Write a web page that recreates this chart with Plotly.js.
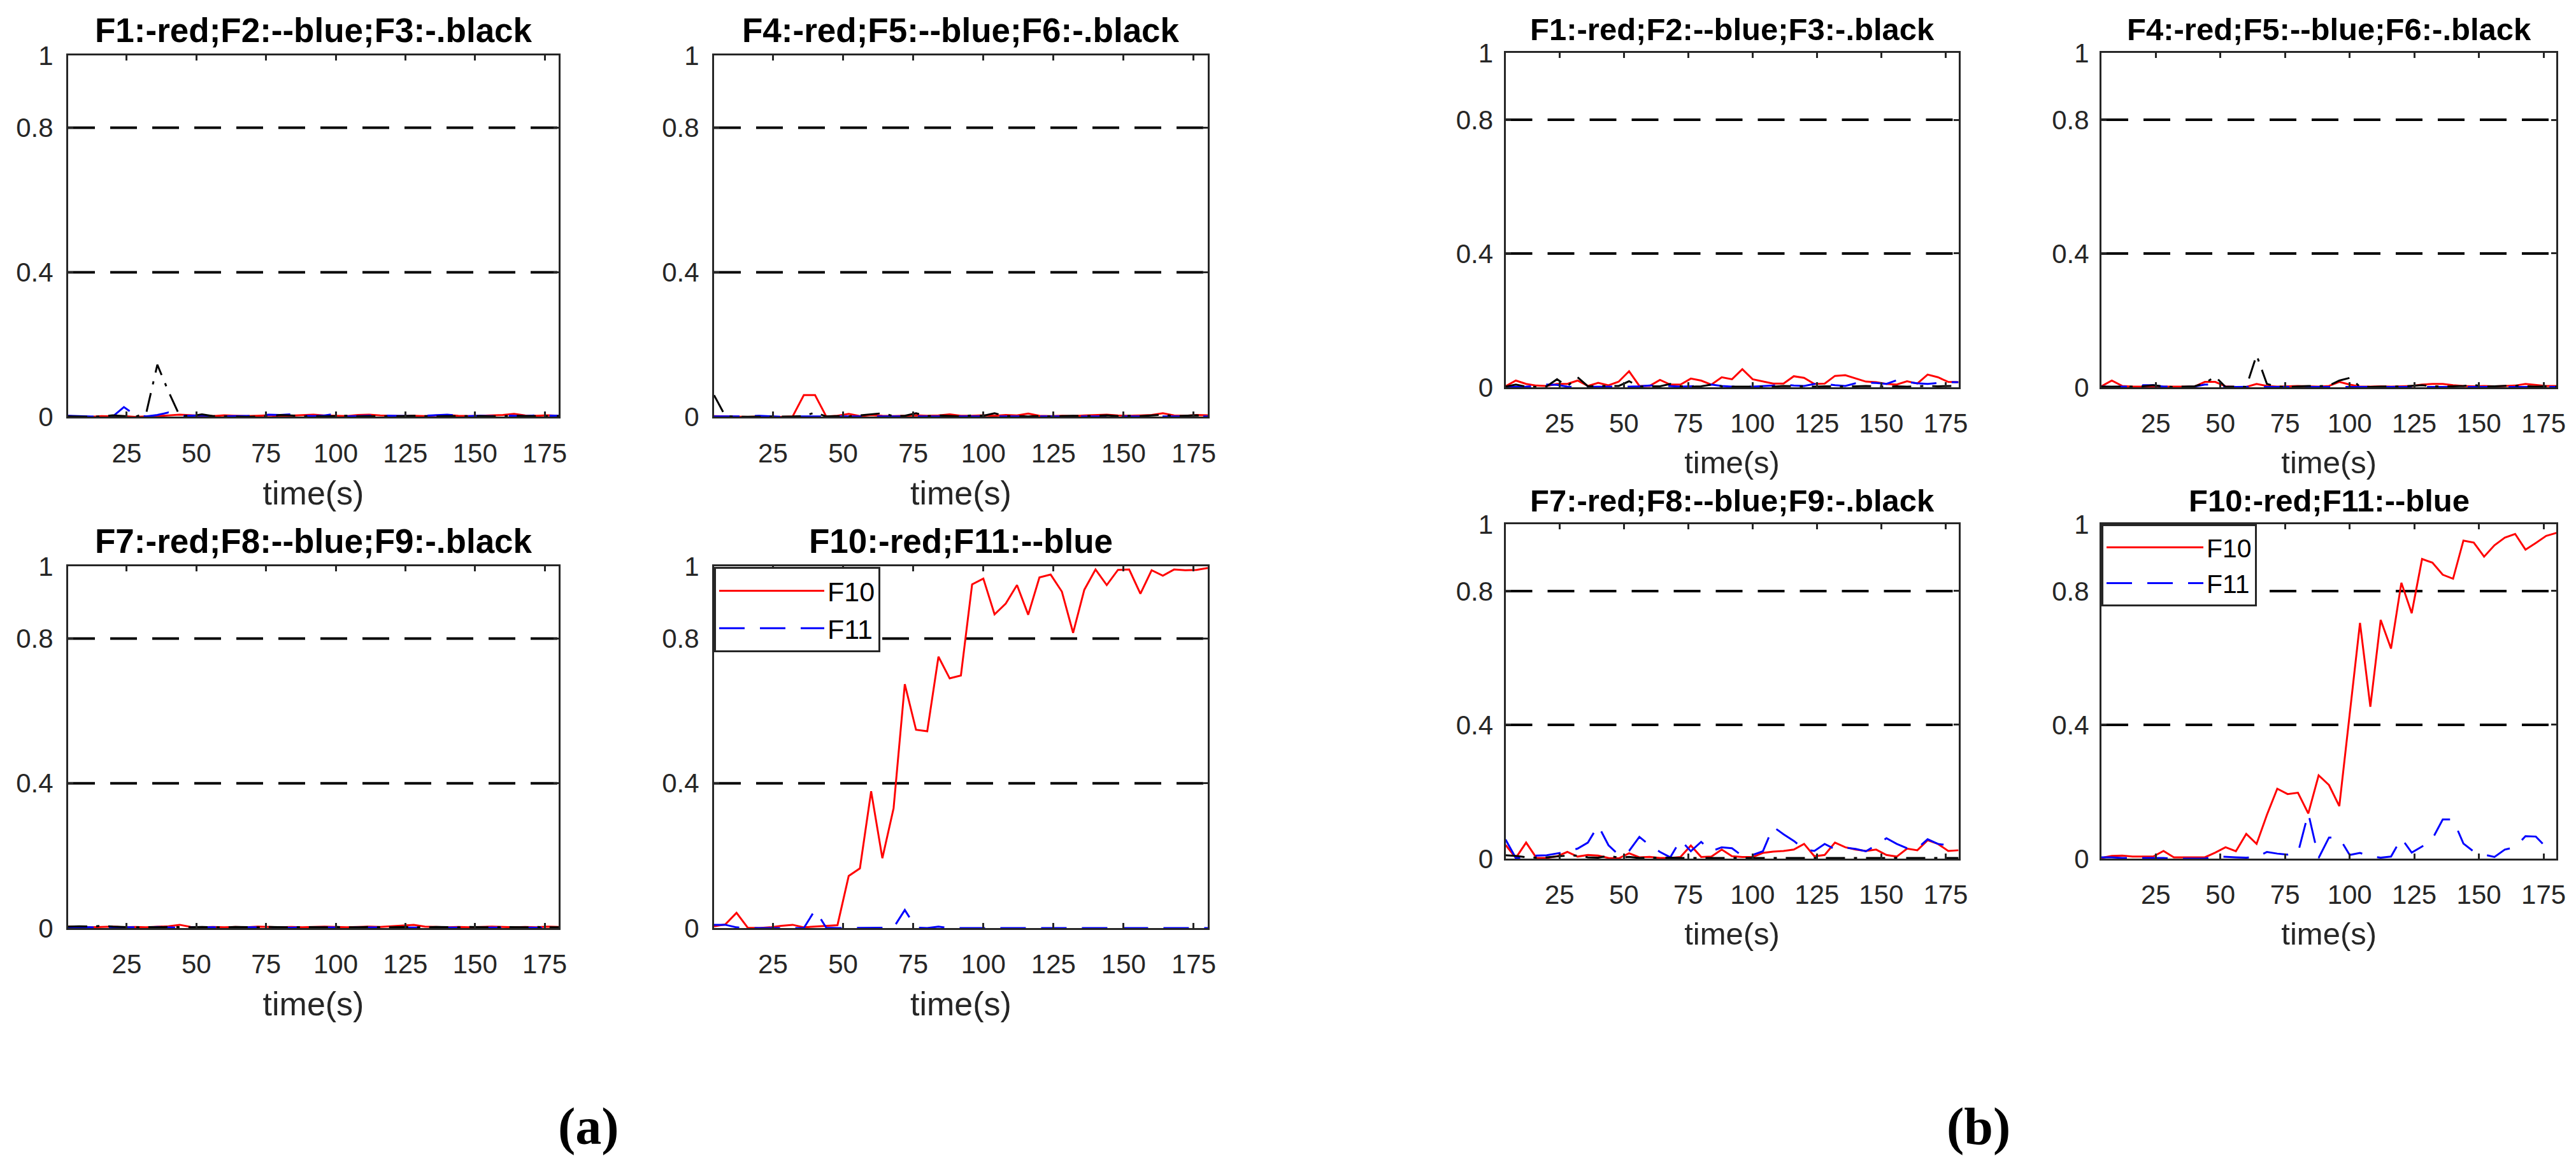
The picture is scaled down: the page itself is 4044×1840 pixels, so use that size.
<!DOCTYPE html>
<html>
<head>
<meta charset="utf-8">
<script src="https://cdn.plot.ly/plotly-3.0.1.min.js"></script>
<style>
  html, body { margin: 0; padding: 0; background: #fff; }
  #fault_chart { width: 4044px; height: 1840px; }
</style>
</head>
<body>
<div id="fault_chart"></div>
<script>
// sample times (s), one every 4 s
let time = [4, 8, 12, 16, 20, 24, 28, 32, 36, 40, 44, 48, 52, 56, 60, 64, 68, 72, 76, 80, 84, 88, 92,
    96, 100, 104, 108, 112, 116, 120, 124, 128, 132, 136, 140, 144, 148, 152, 156, 160, 164, 168, 172, 176, 180];

let thresholds = [0.4, 0.8];
let xTicks = [25, 50, 75, 100, 125, 150, 175];
let yTicks = [0, 0.4, 0.8, 1];
let yTickText = ["0", "0.4", "0.8", "1"];

let titles = ["F1:-red;F2:--blue;F3:-.black", "F4:-red;F5:--blue;F6:-.black",
    "F7:-red;F8:--blue;F9:-.black", "F10:-red;F11:--blue"];
let figureLabels = ["(a)", "(b)"];

// ---- figure (a) ----
let aF1 = [0.002, 0.001, 0.000, 0.002, 0.001, 0.002, 0.000, 0.001, 0.002, 0.004, 0.006, 0.004, 0.003, 0.002, 0.004,
    0.003, 0.002, 0.003, 0.004, 0.002, 0.003, 0.005, 0.006, 0.004, 0.003, 0.002, 0.005, 0.006, 0.004, 0.003,
    0.002, 0.003, 0.002, 0.004, 0.005, 0.003, 0.002, 0.003, 0.004, 0.005, 0.008, 0.004, 0.003, 0.004, 0.003];
let aF2 = [0.003, 0.002, 0.000, 0.000, 0.001, 0.027, 0.005, 0.001, 0.005, 0.012, 0.002, 0.003, 0.004, 0.002, 0.001,
    0.002, 0.002, 0.003, 0.006, 0.005, 0.007, 0.003, 0.002, 0.004, 0.008, 0.001, 0.002, 0.003, 0.004, 0.003,
    0.002, 0.002, 0.003, 0.004, 0.006, 0.003, 0.002, 0.003, 0.002, 0.004, 0.003, 0.002, 0.004, 0.003, 0.003];
let aF3 = [0.001, 0.000, 0.000, 0.001, 0.004, 0.002, 0.000, 0.010, 0.144, 0.070, 0.003, 0.002, 0.007, 0.002, 0.001,
    0.001, 0.000, 0.001, 0.002, 0.005, 0.004, 0.001, 0.002, 0.001, 0.002, 0.003, 0.001, 0.002, 0.002, 0.001,
    0.002, 0.003, 0.002, 0.001, 0.002, 0.002, 0.003, 0.002, 0.001, 0.002, 0.003, 0.002, 0.002, 0.001, 0.002];
let aF4 = [0.002, 0.001, 0.000, 0.000, 0.001, 0.000, 0.000, 0.001, 0.060, 0.060, 0.001, 0.003, 0.008, 0.002, 0.005,
    0.003, 0.002, 0.003, 0.004, 0.003, 0.004, 0.007, 0.003, 0.003, 0.004, 0.003, 0.005, 0.004, 0.009, 0.003,
    0.002, 0.003, 0.002, 0.004, 0.005, 0.006, 0.004, 0.003, 0.004, 0.005, 0.010, 0.004, 0.003, 0.005, 0.004];
let aF5 = [0.001, 0.001, 0.002, 0.001, 0.003, 0.001, 0.000, 0.001, 0.001, 0.000, 0.001, 0.001, 0.000, 0.001, 0.001,
    0.000, 0.001, 0.001, 0.001, 0.000, 0.001, 0.001, 0.000, 0.001, 0.001, 0.001, 0.000, 0.001, 0.001, 0.000,
    0.001, 0.001, 0.001, 0.000, 0.001, 0.001, 0.000, 0.001, 0.001, 0.001, 0.000, 0.001, 0.001, 0.000, 0.001];
let aF6 = [0.060, 0.002, 0.000, 0.000, 0.001, 0.000, 0.001, 0.001, 0.002, 0.012, 0.001, 0.002, 0.001, 0.004, 0.006,
    0.010, 0.002, 0.003, 0.010, 0.002, 0.004, 0.003, 0.001, 0.004, 0.003, 0.010, 0.002, 0.002, 0.001, 0.002,
    0.001, 0.002, 0.003, 0.002, 0.003, 0.004, 0.002, 0.003, 0.002, 0.004, 0.006, 0.002, 0.003, 0.004, 0.003];
let aF7 = [0.004, 0.003, 0.002, 0.003, 0.004, 0.002, 0.003, 0.002, 0.003, 0.005, 0.009, 0.003, 0.002, 0.003, 0.002,
    0.003, 0.002, 0.004, 0.003, 0.002, 0.003, 0.002, 0.003, 0.004, 0.003, 0.002, 0.003, 0.004, 0.003, 0.005,
    0.006, 0.009, 0.004, 0.003, 0.002, 0.003, 0.002, 0.003, 0.004, 0.003, 0.002, 0.003, 0.002, 0.004, 0.003];
let aF8 = [0.002, 0.003, 0.002, 0.001, 0.002, 0.002, 0.001, 0.002, 0.003, 0.002, 0.001, 0.002, 0.002, 0.001, 0.002,
    0.002, 0.001, 0.002, 0.003, 0.002, 0.001, 0.002, 0.002, 0.001, 0.002, 0.002, 0.001, 0.002, 0.002, 0.001,
    0.002, 0.002, 0.001, 0.002, 0.002, 0.001, 0.002, 0.002, 0.001, 0.002, 0.002, 0.001, 0.002, 0.002, 0.001];
let aF9 = [0.004, 0.005, 0.004, 0.006, 0.004, 0.003, 0.002, 0.003, 0.002, 0.003, 0.002, 0.002, 0.003, 0.002, 0.002,
    0.003, 0.002, 0.002, 0.003, 0.002, 0.002, 0.003, 0.002, 0.002, 0.003, 0.002, 0.002, 0.003, 0.002, 0.002,
    0.003, 0.002, 0.002, 0.003, 0.002, 0.002, 0.003, 0.002, 0.002, 0.003, 0.002, 0.002, 0.003, 0.002, 0.002];
let aF10 = [0.005, 0.010, 0.042, 0.001, 0.000, 0.002, 0.006, 0.009, 0.002, 0.004, 0.005, 0.008, 0.144, 0.165, 0.378,
    0.193, 0.331, 0.674, 0.548, 0.544, 0.750, 0.690, 0.698, 0.950, 0.966, 0.867, 0.897, 0.948, 0.866, 0.969,
    0.977, 0.930, 0.816, 0.935, 0.991, 0.948, 0.990, 0.991, 0.924, 0.989, 0.974, 0.991, 0.989, 0.990, 0.995];
let aF11 = [0.009, 0.009, 0.002, 0.000, 0.000, 0.000, 0.000, 0.000, 0.000, 0.050, 0.001, 0.000, 0.000, 0.000, 0.000,
    0.000, 0.001, 0.050, 0.001, 0.000, 0.004, 0.000, 0.000, 0.000, 0.000, 0.000, 0.000, 0.000, 0.000, 0.000,
    0.000, 0.000, 0.000, 0.000, 0.000, 0.000, 0.000, 0.000, 0.000, 0.000, 0.000, 0.000, 0.000, 0.000, 0.000];

// ---- figure (b) ----
let bF1 = [0.003, 0.020, 0.010, 0.005, 0.004, 0.010, 0.010, 0.020, 0.004, 0.013, 0.006, 0.017, 0.048, 0.004, 0.004,
    0.022, 0.008, 0.008, 0.026, 0.020, 0.008, 0.030, 0.024, 0.054, 0.024, 0.017, 0.011, 0.011, 0.033, 0.028,
    0.010, 0.011, 0.034, 0.036, 0.026, 0.017, 0.015, 0.010, 0.008, 0.018, 0.011, 0.038, 0.030, 0.016, 0.015];
let bF2 = [0.001, 0.001, 0.002, 0.004, 0.008, 0.007, 0.002, 0.001, 0.001, 0.002, 0.001, 0.001, 0.002, 0.003, 0.005,
    0.005, 0.003, 0.002, 0.003, 0.004, 0.008, 0.004, 0.002, 0.001, 0.002, 0.003, 0.005, 0.008, 0.005, 0.004,
    0.010, 0.010, 0.006, 0.004, 0.012, 0.014, 0.013, 0.010, 0.021, 0.016, 0.012, 0.010, 0.012, 0.015, 0.015];
let bF3 = [0.002, 0.008, 0.002, 0.001, 0.003, 0.024, 0.003, 0.030, 0.003, 0.004, 0.004, 0.004, 0.018, 0.002, 0.002,
    0.003, 0.010, 0.003, 0.002, 0.003, 0.008, 0.003, 0.002, 0.002, 0.003, 0.002, 0.002, 0.004, 0.003, 0.002,
    0.002, 0.003, 0.002, 0.002, 0.003, 0.004, 0.003, 0.002, 0.003, 0.002, 0.003, 0.004, 0.003, 0.003, 0.004];
let bF4 = [0.003, 0.020, 0.004, 0.002, 0.002, 0.002, 0.001, 0.001, 0.001, 0.002, 0.016, 0.016, 0.003, 0.001, 0.001,
    0.010, 0.004, 0.002, 0.003, 0.004, 0.003, 0.002, 0.004, 0.016, 0.008, 0.002, 0.002, 0.003, 0.002, 0.003,
    0.004, 0.008, 0.010, 0.010, 0.006, 0.004, 0.003, 0.004, 0.003, 0.004, 0.005, 0.010, 0.007, 0.004, 0.004];
let bF5 = [0.002, 0.001, 0.002, 0.002, 0.006, 0.006, 0.002, 0.001, 0.001, 0.002, 0.008, 0.008, 0.002, 0.001, 0.002,
    0.002, 0.001, 0.001, 0.002, 0.001, 0.001, 0.002, 0.002, 0.002, 0.001, 0.001, 0.002, 0.001, 0.001, 0.002,
    0.001, 0.001, 0.002, 0.001, 0.001, 0.002, 0.001, 0.001, 0.002, 0.001, 0.001, 0.002, 0.001, 0.001, 0.001];
let bF6 = [0.002, 0.002, 0.001, 0.002, 0.003, 0.006, 0.002, 0.001, 0.002, 0.003, 0.012, 0.032, 0.001, 0.002, 0.001,
    0.096, 0.010, 0.002, 0.001, 0.003, 0.004, 0.003, 0.005, 0.020, 0.028, 0.002, 0.001, 0.002, 0.003, 0.002,
    0.004, 0.006, 0.003, 0.002, 0.003, 0.004, 0.007, 0.002, 0.003, 0.004, 0.005, 0.003, 0.002, 0.003, 0.002];
let bF7 = [0.041, 0.002, 0.048, 0.002, 0.002, 0.007, 0.020, 0.006, 0.011, 0.009, 0.002, 0.001, 0.016, 0.004, 0.005,
    0.002, 0.002, 0.005, 0.039, 0.005, 0.006, 0.027, 0.007, 0.005, 0.005, 0.017, 0.021, 0.023, 0.027, 0.044,
    0.007, 0.011, 0.048, 0.034, 0.027, 0.023, 0.027, 0.011, 0.006, 0.030, 0.025, 0.055, 0.044, 0.023, 0.025];
let bF8 = [0.057, 0.002, 0.003, 0.009, 0.010, 0.015, 0.021, 0.030, 0.048, 0.099, 0.040, 0.011, 0.023, 0.065, 0.040,
    0.020, 0.004, 0.056, 0.022, 0.050, 0.022, 0.034, 0.031, 0.008, 0.011, 0.022, 0.095, 0.073, 0.053, 0.028,
    0.023, 0.044, 0.028, 0.033, 0.029, 0.022, 0.040, 0.061, 0.044, 0.031, 0.031, 0.058, 0.044, 0.040, 0.037];
let bF9 = [0.010, 0.008, 0.004, 0.003, 0.004, 0.006, 0.009, 0.009, 0.004, 0.003, 0.008, 0.003, 0.005, 0.002, 0.003,
    0.002, 0.003, 0.002, 0.002, 0.003, 0.002, 0.002, 0.003, 0.002, 0.003, 0.002, 0.002, 0.003, 0.002, 0.002,
    0.003, 0.002, 0.003, 0.002, 0.002, 0.003, 0.002, 0.003, 0.002, 0.002, 0.003, 0.002, 0.003, 0.002, 0.002];
let bF10 = [0.002, 0.008, 0.009, 0.006, 0.006, 0.006, 0.023, 0.004, 0.004, 0.004, 0.004, 0.018, 0.034, 0.022, 0.074,
    0.044, 0.131, 0.209, 0.193, 0.197, 0.135, 0.249, 0.220, 0.157, 0.432, 0.705, 0.454, 0.714, 0.628, 0.825,
    0.734, 0.896, 0.885, 0.849, 0.837, 0.951, 0.945, 0.903, 0.937, 0.960, 0.971, 0.924, 0.944, 0.965, 0.974];
let bF11 = [0.004, 0.004, 0.002, 0.002, 0.002, 0.002, 0.002, 0.000, 0.000, 0.000, 0.000, 0.007, 0.005, 0.004, 0.003,
    0.004, 0.020, 0.015, 0.012, 0.017, 0.136, 0.002, 0.063, 0.062, 0.011, 0.017, 0.007, 0.003, 0.006, 0.061,
    0.018, 0.036, 0.059, 0.117, 0.117, 0.045, 0.021, 0.012, 0.005, 0.027, 0.034, 0.067, 0.066, 0.034, 0.034];

// line styles in the MATLAB order: '-' red, '--' blue, '-.' black
let styles = [
    {color: '#ff0000', width: 3, dash: 'solid'},
    {color: '#0000ff', width: 3, dash: '40px,24px'},
    {color: '#000000', width: 3, dash: '30px,14px,5px,14px'}
];

let panels = [
    {fig: 0, title: titles[0], names: ["F1", "F2", "F3"], series: [aF1, aF2, aF3]},
    {fig: 0, title: titles[1], names: ["F4", "F5", "F6"], series: [aF4, aF5, aF6]},
    {fig: 0, title: titles[2], names: ["F7", "F8", "F9"], series: [aF7, aF8, aF9]},
    {fig: 0, title: titles[3], names: ["F10", "F11"], series: [aF10, aF11], legend: 'legend'},
    {fig: 1, title: titles[0], names: ["F1", "F2", "F3"], series: [bF1, bF2, bF3]},
    {fig: 1, title: titles[1], names: ["F4", "F5", "F6"], series: [bF4, bF5, bF6]},
    {fig: 1, title: titles[2], names: ["F7", "F8", "F9"], series: [bF7, bF8, bF9]},
    {fig: 1, title: titles[3], names: ["F10", "F11"], series: [bF10, bF11], legend: 'legend2'}
];

// subplot boxes (paper fractions)
let colDomains = [[0.02646, 0.21687], [0.27720, 0.46884], [0.58445, 0.76029], [0.81578, 0.99243]];
let rowDomains = [
    [[0.64435, 0.95272], [0.20815, 0.51685]],
    [[0.66957, 0.95489], [0.26739, 0.55272]]
];

let fontFamily = 'Liberation Sans, Arial, Helvetica, sans-serif';
let axisColor = '#262626';

let data = [];
let layout = {
    width: 4044,
    height: 1840,
    margin: {l: 0, r: 0, t: 0, b: 0},
    paper_bgcolor: '#ffffff',
    plot_bgcolor: '#ffffff',
    font: {family: fontFamily, color: axisColor},
    showlegend: true,
    shapes: [],
    annotations: []
};

panels.forEach(function (p, i) {
    let n = i + 1;
    let xa = n == 1 ? 'x' : 'x' + n;
    let ya = n == 1 ? 'y' : 'y' + n;
    let col = (p.fig * 2) + (i % 2);
    let row = Math.floor((i % 4) / 2);

    p.series.forEach((s, j) => {
        data.push({
            x: time,
            y: s,
            name: p.names[j],
            xaxis: xa,
            yaxis: ya,
            mode: 'lines',
            type: 'scatter',
            line: styles[j],
            showlegend: !!p.legend,
            legend: p.legend || 'legend',
            hovertemplate: p.names[j] + '<br>t=%{x}s: %{y}<extra></extra>'
        });
    });

    let tickSize = 42;
    layout['xaxis' + (n == 1 ? '' : n)] = {
        domain: colDomains[col],
        anchor: ya,
        range: [4, 180],
        tickvals: xTicks,
        ticks: 'inside', ticklen: 8, tickwidth: 3, tickcolor: axisColor,
        showline: true, linewidth: 3, linecolor: axisColor, mirror: 'ticks',
        showgrid: false, zeroline: false,
        tickfont: {size: tickSize, color: axisColor},
        ticklabelstandoff: 18,
        title: {text: 'time(s)', font: {size: p.fig == 0 ? 52 : 49, color: axisColor}, standoff: 22}
    };
    layout['yaxis' + (n == 1 ? '' : n)] = {
        domain: rowDomains[p.fig][row],
        anchor: xa,
        range: [0, 1],
        tickvals: yTicks,
        ticktext: yTickText,
        ticks: 'inside', ticklen: 8, tickwidth: 3, tickcolor: axisColor,
        showline: true, linewidth: 3, linecolor: axisColor, mirror: 'ticks',
        showgrid: false, zeroline: false,
        tickfont: {size: tickSize, color: axisColor},
        ticklabelstandoff: p.fig == 0 ? 12 : 8
    };

    thresholds.forEach(t => {
        layout.shapes.push({
            type: 'line', xref: xa + ' domain', yref: ya,
            x0: 0, x1: 1, y0: t, y1: t,
            line: {color: '#000000', width: 4, dash: '42px,24px'},
            layer: 'below'
        });
    });

    layout.annotations.push({
        text: '<b>' + p.title + '</b>',
        xref: xa + ' domain', yref: ya + ' domain',
        x: 0.5, y: 1, xanchor: 'center', yanchor: 'bottom',
        yshift: 8, showarrow: false,
        font: {size: p.fig == 0 ? 53 : 49, color: '#000000'}
    });
});

let legendStyle = {
    xanchor: 'left', yanchor: 'top',
    bgcolor: '#ffffff', bordercolor: axisColor, borderwidth: 3,
    font: {size: 43, color: '#000000'},
    itemwidth: 165, tracegroupgap: 0
};
layout.legend = Object.assign({x: 0.27720, y: 0.51630}, legendStyle);
layout.legend2 = Object.assign({x: 0.81578, y: 0.55272}, legendStyle, {itemwidth: 152, font: {size: 41, color: '#000000'}});

figureLabels.forEach((lab, i) => {
    layout.annotations.push({
        text: '<b>' + lab + '</b>',
        xref: 'paper', yref: 'paper',
        x: i == 0 ? 0.2285 : 0.7680, y: 0.0391,
        xanchor: 'center', yanchor: 'middle', showarrow: false,
        font: {family: 'Liberation Serif, Times New Roman, serif', size: 82, color: '#000000'}
    });
});

Plotly.newPlot('fault_chart', data, layout, {
    displayModeBar: false,
    responsive: false
});
</script>
</body>
</html>
